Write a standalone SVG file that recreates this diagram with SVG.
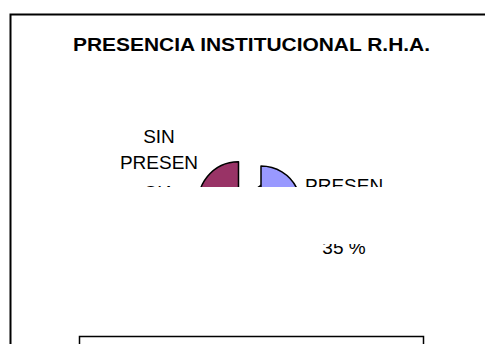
<svg xmlns="http://www.w3.org/2000/svg" width="485" height="344" viewBox="0 0 485 344">
  <style>
    .t { font-family: "Liberation Sans", Arial, sans-serif; fill: #000; }
    .title { font-size: 18px; font-weight: bold; }
    .lbl { font-size: 19px; }
    .slice { stroke: #000; stroke-width: 1.5; stroke-linejoin: round; }
  </style>
  <defs>
    <clipPath id="plot">
      <rect x="0" y="0" width="485" height="187"/>
      <rect x="0" y="244" width="485" height="100"/>
    </clipPath>
  </defs>
  <rect width="485" height="344" fill="#fff"/>
  <rect id="frame" x="10.5" y="14.5" width="500" height="400" fill="none" stroke="#000" stroke-width="2"/>
  <text id="title" class="t title" x="251.5" y="51" text-anchor="middle" textLength="357" lengthAdjust="spacingAndGlyphs">PRESENCIA INSTITUCIONAL R.H.A.</text>
  <g clip-path="url(#plot)">
    <g id="slice-sin">
      <path class="slice" fill="#993366" d="M238.5,201.7 L238.5,161.7 A40,40 0 1 0 270.9,178.2 Z"/>
      <text class="t lbl" x="159" y="143" text-anchor="middle">SIN</text>
      <text class="t lbl" x="159" y="168.5" text-anchor="middle">PRESEN</text>
      <text class="t lbl" x="159" y="199" text-anchor="middle">CIA</text>
    </g>
    <g id="slice-presencia">
      <path class="slice" fill="#9999FF" d="M261,206 L261,166 A40,40 0 0 1 296.6,187.8 Z"/>
      <text class="t lbl" x="305" y="192">PRESEN</text>
      <text class="t lbl" x="344" y="254" text-anchor="middle">35 %</text>
    </g>
  </g>
  <rect id="legend" x="79.5" y="336.5" width="344" height="40" fill="none" stroke="#000" stroke-width="1.5"/>
</svg>
